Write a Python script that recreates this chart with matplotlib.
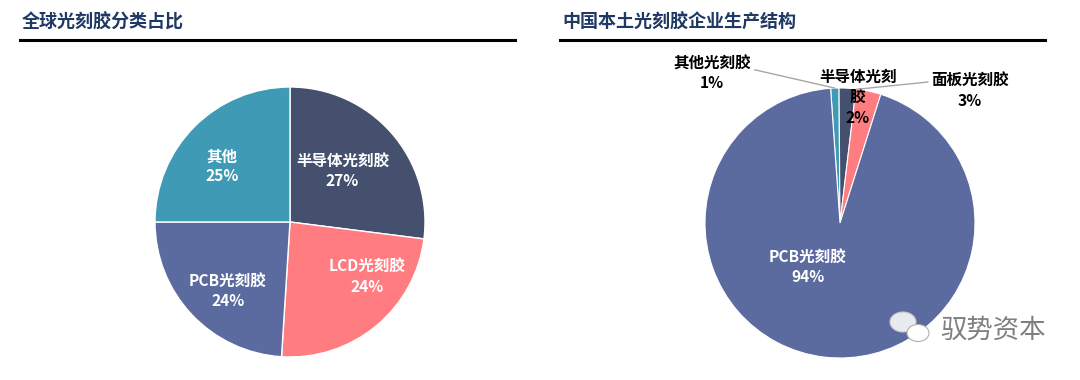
import numpy as np
import matplotlib
matplotlib.use("Agg")
import matplotlib.pyplot as plt
from matplotlib.lines import Line2D
from matplotlib.patches import Ellipse

plt.rcParams['font.family'] = ['Noto Sans CJK SC', 'DejaVu Sans']

# -------------------------------
# data
# -------------------------------
left_title = "全球光刻胶分类占比"
left_labels = ["半导体光刻胶", "LCD光刻胶", "PCB光刻胶", "其他"]
left_values = [27, 24, 24, 25]
left_colors = ["#454F6E", "#FF7C80", "#5B6BA0", "#3E9AB5"]

right_title = "中国本土光刻胶企业生产结构"
right_labels = ["其他光刻胶", "半导体光刻\n胶", "面板光刻胶", "PCB光刻胶"]
right_values = [1, 2, 3, 94]
right_colors = ["#3E9AB5", "#454F6E", "#FF7C80", "#5B6BA0"]

W, H = 1080, 380
fig = plt.figure(figsize=(W / 100, H / 100), dpi=100)
fig.patch.set_facecolor("white")

LBL_SIZE = 11.2


def px_axes(x0, y0, w, h):
    # pixel box (top-left origin) -> figure axes
    return fig.add_axes([x0 / W, (H - y0 - h) / H, w / W, h / H])


def header(text, x0, x1):
    fig.text(x0 / W + 0.002, 1 - 22 / H, text, fontsize=13, fontweight="bold",
             color="#1F3864", ha="left", va="center")
    fig.add_artist(Line2D([x0 / W, x1 / W], [1 - 40 / H, 1 - 40 / H],
                          color="black", lw=2.2))


header(left_title, 20, 515)
header(right_title, 560, 1045)

# -------------------------------
# left pie
# -------------------------------
ax1 = px_axes(155, 87, 270, 270)
wedges, _ = ax1.pie(left_values, colors=left_colors, startangle=90,
                    counterclock=False, radius=1,
                    wedgeprops=dict(edgecolor="white", linewidth=1))
ax1.set_xlim(-1, 1)
ax1.set_ylim(-1, 1)
ax1.set_aspect("equal")

# label placement: radial distance and angular nudge per slice
left_dist = [0.54, 0.70, 0.69, 0.65]
left_shift = [2.5, 15, 5, 5.5]
for w, lab, v, d, s in zip(wedges, left_labels, left_values, left_dist, left_shift):
    ang = np.deg2rad((w.theta1 + w.theta2) / 2 + s)
    ax1.text(d * np.cos(ang), d * np.sin(ang), f"{lab}\n{v}%", color="white",
             fontsize=LBL_SIZE, fontweight="bold", ha="center", va="center",
             linespacing=1.3)

# -------------------------------
# right pie
# -------------------------------
ax2 = px_axes(705, 88, 270, 270)
wedges2, _ = ax2.pie(right_values, colors=right_colors, startangle=94,
                     counterclock=False, radius=1,
                     wedgeprops=dict(edgecolor="white", linewidth=0.8))
ax2.set_xlim(-1, 1)
ax2.set_ylim(-1, 1)
ax2.set_aspect("equal")

# PCB label inside
ax2.text(-0.24, -0.33, f"{right_labels[3]}\n{right_values[3]}%", color="white",
         fontsize=LBL_SIZE, fontweight="bold", ha="center", va="center",
         linespacing=1.3)

# outside labels with leader lines
lead_color = "#A6A6A6"
# 其他
w = wedges2[0]
a = np.deg2rad((w.theta1 + w.theta2) / 2)
ax2.annotate(f"{right_labels[0]}\n{right_values[0]}%", xy=(np.cos(a), np.sin(a)),
             xytext=(-0.95, 1.11), textcoords="data", fontsize=LBL_SIZE,
             fontweight="bold", ha="center", va="center", linespacing=1.3,
             annotation_clip=False,
             arrowprops=dict(arrowstyle="-", color=lead_color, lw=1,
                             shrinkA=1, shrinkB=0, relpos=(1, 0.62)))
# 半导体
ax2.text(0.13, 0.93, f"{right_labels[1]}\n{right_values[1]}%", fontsize=LBL_SIZE,
         fontweight="bold", ha="center", va="center", linespacing=1.35,
         clip_on=False)
# 面板
ax2.annotate(f"{right_labels[2]}\n{right_values[2]}%", xy=(0.12, 0.99),
             xytext=(0.96, 0.98), textcoords="data", fontsize=LBL_SIZE,
             fontweight="bold", ha="center", va="center", linespacing=1.3,
             annotation_clip=False,
             arrowprops=dict(arrowstyle="-", color=lead_color, lw=1,
                             shrinkA=0, shrinkB=0, relpos=(0, 0.75)))

# -------------------------------
# watermark
# -------------------------------
wm = fig.add_axes([0, 0, 1, 1], facecolor="none")
wm.set_xlim(0, W)
wm.set_ylim(H, 0)
wm.axis("off")
wm.add_patch(Ellipse((903, 322), 26, 20, facecolor="#E8EAF0", edgecolor="#C8C8C8", lw=0.8))
wm.add_patch(Ellipse((918, 333), 22, 17, facecolor="white", edgecolor="#B0B0B0", lw=0.8))
wm.text(940, 330, "驭势资本", fontsize=19, color="#7F7F7F", ha="left", va="center")

plt.savefig("out.png", dpi=100, facecolor="white")
